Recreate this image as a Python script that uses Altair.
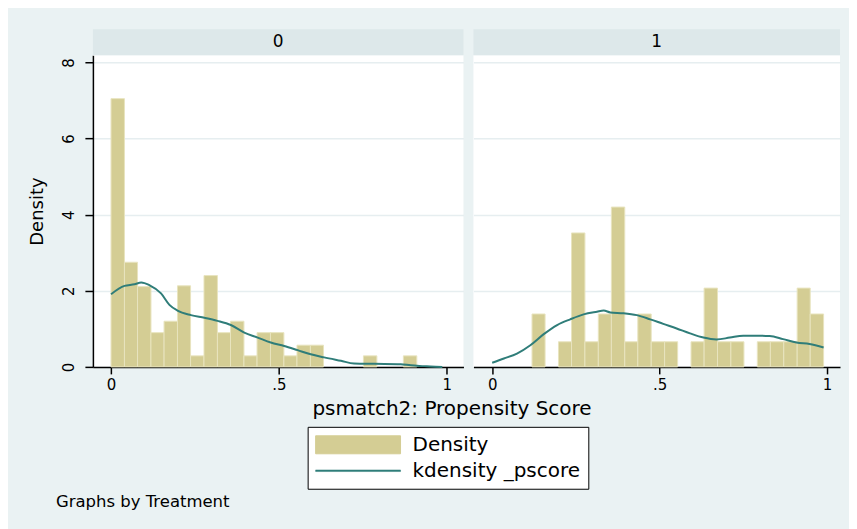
import altair as alt
import pandas as pd

# ---------------- data ----------------
bin_edges = [0.000, 0.040, 0.079, 0.119, 0.158, 0.198, 0.237, 0.277, 0.317, 0.356,
             0.396, 0.435, 0.475, 0.515, 0.554, 0.594, 0.633, 0.673, 0.713, 0.752,
             0.792, 0.831, 0.871, 0.911, 0.950, 0.990]
dens_0 = [7.05, 2.75, 2.11, 0.90, 1.20, 2.13, 0.29, 2.40, 0.90, 1.20,
          0.29, 0.90, 0.90, 0.29, 0.57, 0.57, 0.0, 0.0, 0.0, 0.29,
          0.0, 0.0, 0.29, 0.0, 0.0]
dens_1 = [0.0, 0.0, 0.0, 1.39, 0.0, 0.66, 3.52, 0.66, 1.39, 4.20,
          0.66, 1.39, 0.66, 0.66, 0.0, 0.66, 2.07, 0.66, 0.66, 0.0,
          0.66, 0.66, 0.66, 2.07, 1.39]

kd0_x = [0.0, 0.04, 0.07, 0.09, 0.114, 0.149, 0.174, 0.198, 0.238, 0.278, 0.317,
         0.357, 0.397, 0.437, 0.476, 0.516, 0.556, 0.595, 0.635, 0.685, 0.724,
         0.784, 0.863, 0.893, 0.933, 0.952, 0.987]
kd0_y = [1.91, 2.13, 2.17, 2.22, 2.15, 1.93, 1.63, 1.48, 1.36, 1.29, 1.21,
         1.10, 0.90, 0.77, 0.64, 0.55, 0.44, 0.33, 0.25, 0.16, 0.09,
         0.08, 0.07, 0.04, 0.02, 0.01, 0.0]
kd1_x = [0.0, 0.035, 0.074, 0.114, 0.154, 0.194, 0.233, 0.273, 0.313, 0.333, 0.353,
         0.392, 0.432, 0.472, 0.511, 0.551, 0.591, 0.631, 0.670, 0.710, 0.750,
         0.789, 0.829, 0.869, 0.909, 0.948, 0.990]
kd1_y = [0.11, 0.22, 0.35, 0.57, 0.86, 1.10, 1.25, 1.38, 1.45, 1.48, 1.43,
         1.41, 1.36, 1.25, 1.13, 1.01, 0.88, 0.77, 0.72, 0.77, 0.82,
         0.82, 0.81, 0.73, 0.64, 0.60, 0.51]

panel_labels = ["0", "1"]
series = ["Density", "kdensity _pscore"]
y_ticks = [0, 2, 4, 6, 8]
x_ticks = [0, 0.5, 1]
x_tick_labels = ["0", ".5", "1"]
x_title = "psmatch2: Propensity Score"
y_title = "Density"
note = "Graphs by Treatment"

# ---------------- style ----------------
FONT = "DejaVu Sans"
BAR = "#d4cd94"
BAR_EDGE = "#e8e4bf"
LINE = "#2f7d79"
HEADER = "#dde8ea"
BG = "#eaf2f3"
GRID = "#e6eef0"

color_scale = alt.Scale(domain=series, range=[BAR, LINE])

label_expr = " : ".join(
    [f"datum.value == {v} ? '{t}'" for v, t in zip(x_ticks, x_tick_labels)]
) + " : datum.label"

legend = alt.Legend(
    title=None,
    orient="none",
    legendX=215,
    legendY=372,
    direction="vertical",
    strokeColor="black",
    fillColor="white",
    padding=8,
    rowPadding=5,
    symbolSize=400,
    labelOffset=77,
    labelLimit=400,
    labelFont=FONT,
    labelFontSize=20,
    labelColor="black",
    symbolOpacity=1,
    symbolType={"expr": "datum.value === 'Density' ? 'M-1,-0.9H7.5V0.9H-1Z' : 'M-1,-0.08H7.5V0.08H-1Z'"},
    symbolFillColor={"expr": f"datum.value === 'Density' ? '{BAR}' : '{LINE}'"},
    symbolStrokeColor={"expr": f"datum.value === 'Density' ? '{BAR_EDGE}' : '{LINE}'"},
    symbolStrokeWidth={"expr": "datum.value === 'Density' ? 1 : 0.5"},
)


def bars_df(heights):
    rows = []
    for i, h in enumerate(heights):
        if h > 0:
            rows.append({"x0": bin_edges[i], "x1": bin_edges[i + 1], "d": h, "series": series[0]})
    return pd.DataFrame(rows)


def panel(idx, heights, kx, ky, width, xdom):
    first = idx == 0
    yscale = alt.Scale(domain=[0, 8.19], nice=False)
    xscale = alt.Scale(domain=xdom, nice=False)
    if first:
        yaxis = alt.Axis(values=y_ticks, labelAngle=270, labelAlign="center",
                         labelBaseline="bottom", labelPadding=8, tickSize=8,
                         labelFontSize=15, title=y_title, titleFontSize=18,
                         titlePadding=15, grid=True)
        xaxis = alt.Axis(values=x_ticks, labelExpr=label_expr, tickSize=7,
                         labelPadding=4, labelFontSize=15, title=x_title,
                         titleFontSize=20, titleX=359, titleY=48,
                         titleBaseline="alphabetic", titleAlign="center",
                         grid=False)
    else:
        yaxis = alt.Axis(values=y_ticks, labels=False, ticks=False, domain=False,
                         title=None, grid=True)
        xaxis = alt.Axis(values=x_ticks, labelExpr=label_expr, tickSize=7,
                         labelPadding=4, labelFontSize=15, title=None, grid=False)

    bars = alt.Chart(bars_df(heights)).mark_rect(stroke=BAR_EDGE, strokeWidth=1).encode(
        x=alt.X("x0:Q", scale=xscale, axis=xaxis),
        x2="x1:Q",
        y=alt.Y("d:Q", scale=yscale, axis=yaxis),
        y2=alt.datum(0),
        color=alt.Color("series:N", scale=color_scale, legend=legend),
    )
    kd = pd.DataFrame({"x": kx, "y": ky, "series": series[1]})
    line = alt.Chart(kd).mark_line(strokeWidth=2, interpolate="monotone").encode(
        x=alt.X("x:Q", scale=xscale),
        y=alt.Y("y:Q", scale=yscale),
        color=alt.Color("series:N", scale=color_scale, legend=legend),
    )
    head_df = pd.DataFrame({"lab": [panel_labels[idx]]})
    head = alt.Chart(head_df).mark_rect(color=HEADER).encode(
        x=alt.value(0), x2=alt.value(width), y=alt.value(-26), y2=alt.value(0)
    )
    head_txt = alt.Chart(head_df).mark_text(fontSize=17, font=FONT, color="black",
                                            baseline="middle", align="center").encode(
        x=alt.value(width / 2), y=alt.value(-13), text="lab:N"
    )
    layers = [head, head_txt, bars, line]
    if first:
        note_df = pd.DataFrame({"t": [note]})
        layers.append(
            alt.Chart(note_df).mark_text(fontSize=16.5, font=FONT, color="black",
                                         align="left", baseline="middle").encode(
                x=alt.value(-37), y=alt.value(447), text="t:N"
            )
        )
    return alt.layer(*layers).properties(width=width, height=312)


p0 = panel(0, dens_0, kd0_x, kd0_y, 371, [-0.054, 1.05])
p1 = panel(1, dens_1, kd1_x, kd1_y, 367, [-0.056, 1.039])

chart = alt.hconcat(p0, p1, spacing=10, bounds="flush").properties(
    background=BG,
    padding={"left": 21, "top": 21, "right": 9, "bottom": 24},
).configure_view(
    fill="white", stroke=None
).configure_axis(
    labelFont=FONT, titleFont=FONT, labelColor="black", titleColor="black",
    domainColor="black", domainWidth=1.5, tickColor="black", tickWidth=1.5,
    gridColor=GRID, gridWidth=1.5, titleFontWeight="normal"
)

chart.save("out.html", embed_options={"renderer": "svg", "actions": False})
